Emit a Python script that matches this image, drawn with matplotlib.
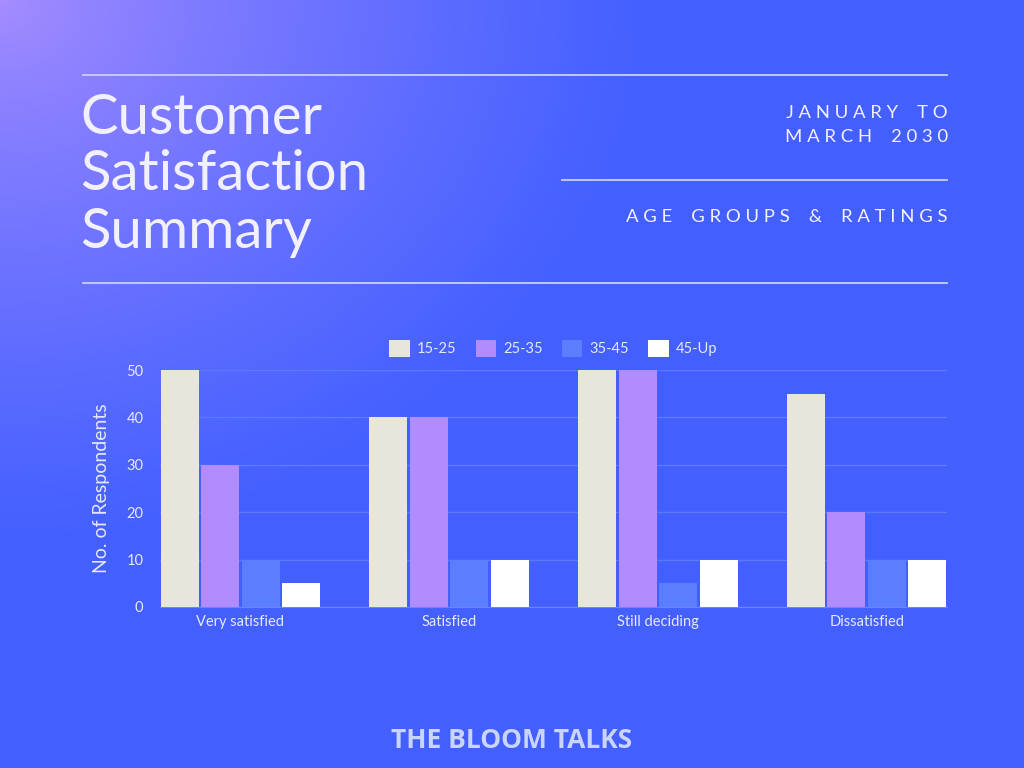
import numpy as np
import matplotlib
matplotlib.use('Agg')
from matplotlib import pyplot as plt

categories = ['Very satisfied', 'Satisfied', 'Still deciding', 'Dissatisfied']
groups = ['15-25', '25-35', '35-45', '45-Up']
values = {
    '15-25': [50, 40, 50, 45],
    '25-35': [30, 40, 50, 20],
    '35-45': [10, 10, 5, 10],
    '45-Up': [5, 10, 10, 10],
}
colors = ['#e8e6da', '#b08cff', '#5b7dff', '#ffffff']
yticks = [0, 10, 20, 30, 40, 50]

W, H = 1024, 768
fig = plt.figure(figsize=(10.24, 7.68), dpi=100)

# background gradient, lavender in the top-left corner fading into blue
bg = fig.add_axes([0, 0, 1, 1])
yy, xx = np.mgrid[0:H, 0:W]
d = np.sqrt((xx / 1.0) ** 2 + (yy * 1.2) ** 2)
t = np.clip(d / 650.0, 0, 1) ** 0.75
c0 = np.array([168, 142, 255]) / 255
c1 = np.array([67, 96, 255]) / 255
img = c0[None, None, :] * (1 - t[..., None]) + c1[None, None, :] * t[..., None]
bg.imshow(img, extent=[0, W, H, 0], aspect='auto')
bg.set_xlim(0, W)
bg.set_ylim(H, 0)
bg.axis('off')

line_c = '#c9cfff'
bg.plot([83, 947], [75, 75], color=line_c, lw=1.3)
bg.plot([562, 947], [180, 180], color=line_c, lw=1.3)
bg.plot([83, 947], [283, 283], color=line_c, lw=1.3)

txt_c = '#f2f0ff'
for i, s in enumerate(['Customer', 'Satisfaction', 'Summary']):
    bg.text(80, 118 + i * 57, s, fontsize=40.5, color=txt_c, family='Lato',
            fontweight='normal', va='center', ha='left')

def spaced(s):
    return ' '.join(list(s)).replace('   ', '    ')

for y, s in [(113, 'JANUARY TO'), (137, 'MARCH 2030'), (217, 'AGE GROUPS & RATINGS')]:
    bg.text(948, y, spaced(s), fontsize=13.3, color=txt_c, family='Lato',
            fontweight='normal', ha='right', va='center')

bg.text(512, 740, 'THE BLOOM TALKS', fontsize=19, color='#c9d5ff', family='Open Sans',
        fontweight='bold', ha='center', va='center')

# chart
ax = fig.add_axes([160 / W, 1 - 607 / H, 787 / W, 237 / H])
ax.patch.set_alpha(0)
x = np.arange(len(categories))
bw = 0.182
pitch = 0.194
for i, g in enumerate(groups):
    ax.bar(x + (i - 1.5) * pitch, values[g], width=bw, color=colors[i],
           label=g, zorder=3)
ax.set_xlim(-0.385, 3.385)
ax.set_ylim(0, 50)
ax.set_yticks(yticks)
ax.yaxis.grid(True, color='#5b78ff', lw=1, zorder=0)
ax.set_axisbelow(True)
for s in ['top', 'right', 'left']:
    ax.spines[s].set_visible(False)
ax.spines['bottom'].set_color('#6a86ff')
ax.set_xticks(x)
ax.set_xticklabels(categories)
ax.tick_params(length=0, colors='#e6e8ff', labelsize=10.5)
for lab in ax.get_xticklabels() + ax.get_yticklabels():
    lab.set_family('Lato')
ax.tick_params(axis='y', pad=12)
ax.tick_params(axis='x', pad=6)
ax.set_ylabel('No. of Respondents', color='#e6e8ff', fontsize=14, family='Lato',
              labelpad=12)

leg = ax.legend(loc='lower center', bbox_to_anchor=(0.5, 1.0), ncol=4, frameon=False,
                handlelength=1.4, handleheight=1.4, handletextpad=0.5, columnspacing=1.3,
                prop={'family': 'Lato', 'size': 10.5})
for t_ in leg.get_texts():
    t_.set_color('#e6e8ff')

fig.savefig('out.png', dpi=100)
